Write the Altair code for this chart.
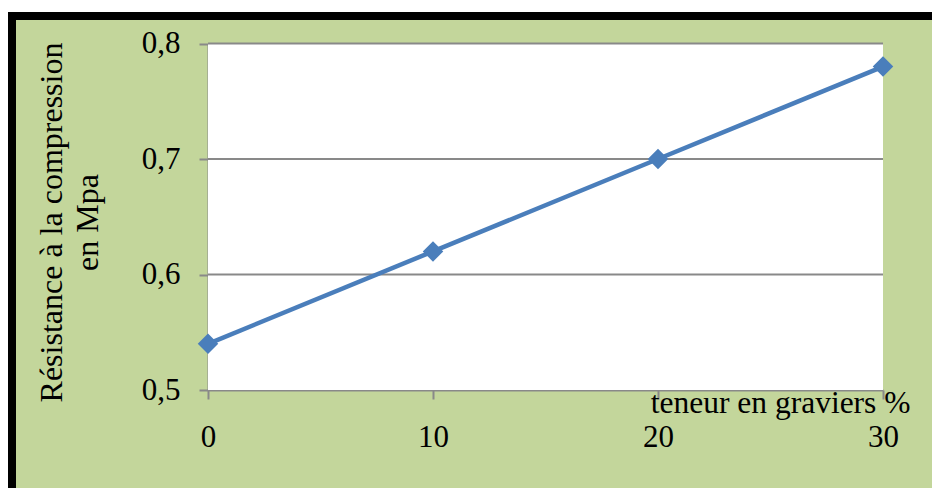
import altair as alt
import pandas as pd

# ---- data ----
teneur = [0, 10, 20, 30]
resistance = [0.54, 0.62, 0.70, 0.78]
x_ticks = [0, 10, 20, 30]
y_ticks = [0.5, 0.6, 0.7, 0.8]
y_title = ["Résistance à la compression", "en Mpa"]
x_title = "teneur en graviers %"

df = pd.DataFrame({"teneur": teneur, "resistance": resistance})
grid_df = pd.DataFrame({"g": y_ticks[1:], "x0": x_ticks[0], "x1": x_ticks[-1]})
area_df = pd.DataFrame({"x0": [x_ticks[0]], "x1": [x_ticks[-1]],
                        "y0": [y_ticks[0]], "y1": [y_ticks[-1]]})
one = pd.DataFrame({"k": [0]})

GREEN = "#C3D69B"
GREY = "#898989"
BLUE = "#4A7EBB"
FONT = "Liberation Serif"

W, H = 924, 480
X_RANGE = [200, 875]
Y_RANGE = [382, 35.5]

xs = alt.Scale(domain=[0, 30], nice=False, zero=False, range=X_RANGE)
ys = alt.Scale(domain=[0.5, 0.8], nice=False, zero=False, range=Y_RANGE)

x_axis = alt.Axis(
    values=x_ticks, format="d", grid=False, offset=Y_RANGE[0] - H,
    labelFont=FONT, labelFontSize=31, labelColor="black",
    labelPadding=23, labelFlush=False, labelOverlap=False,
    tickSize=9, tickColor=GREY, tickWidth=2,
    domainColor=GREY, domainWidth=2,
    title=x_title, titleFont=FONT, titleFontSize=31.5,
    titleFontWeight="normal", titleColor="black",
    titleX=902, titleY=22, titleAlign="right",
    titleBaseline="alphabetic", titleAngle=0,
)
y_axis = alt.Axis(
    values=y_ticks, grid=False, offset=-X_RANGE[0],
    labelExpr="replace(format(datum.value, '.1f'), '.', ',')",
    labelFont=FONT, labelFontSize=31, labelColor="black",
    labelPadding=19, labelFlush=False, labelOverlap=False,
    tickSize=9, tickColor=GREY, tickWidth=2,
    domainColor=GREY, domainWidth=2,
    title=y_title, titleFont=FONT, titleFontSize=32,
    titleFontWeight="normal", titleColor="black",
    titleLineHeight=36, titleX=-147, titleY=214,
    titleAlign="center", titleBaseline="alphabetic", titleAngle=270,
)

deco = alt.Chart(one)
white_strip = deco.mark_rect(color="white").encode(
    x=alt.value(0), x2=alt.value(W), y=alt.value(0), y2=alt.value(4))
black_top = deco.mark_rect(color="black").encode(
    x=alt.value(0), x2=alt.value(W), y=alt.value(4), y2=alt.value(12))
black_left = deco.mark_rect(color="black").encode(
    x=alt.value(0), x2=alt.value(8), y=alt.value(4), y2=alt.value(H))

plot_bg = alt.Chart(area_df).mark_rect(color="white").encode(
    x=alt.X("x0:Q", scale=xs, axis=x_axis), x2="x1:Q",
    y=alt.Y("y0:Q", scale=ys, axis=y_axis), y2="y1:Q")
grid = alt.Chart(grid_df).mark_rule(color=GREY, strokeWidth=2).encode(
    x=alt.X("x0:Q", scale=xs), x2="x1:Q", y=alt.Y("g:Q", scale=ys))
line = alt.Chart(df).mark_line(color=BLUE, strokeWidth=4.5).encode(
    x=alt.X("teneur:Q", scale=xs), y=alt.Y("resistance:Q", scale=ys))
pts = alt.Chart(df).mark_point(
    shape="diamond", size=420, filled=True, color=BLUE, opacity=1
).encode(x=alt.X("teneur:Q", scale=xs), y=alt.Y("resistance:Q", scale=ys))

chart = alt.layer(
    white_strip, black_top, black_left, plot_bg, grid, line, pts
).properties(
    width=W, height=H, padding=0, background="white",
    autosize=alt.AutoSizeParams(type="none"),
).configure_view(fill=GREEN, stroke="transparent")

chart.save("out.html", embed_options={"renderer": "svg", "actions": False})
